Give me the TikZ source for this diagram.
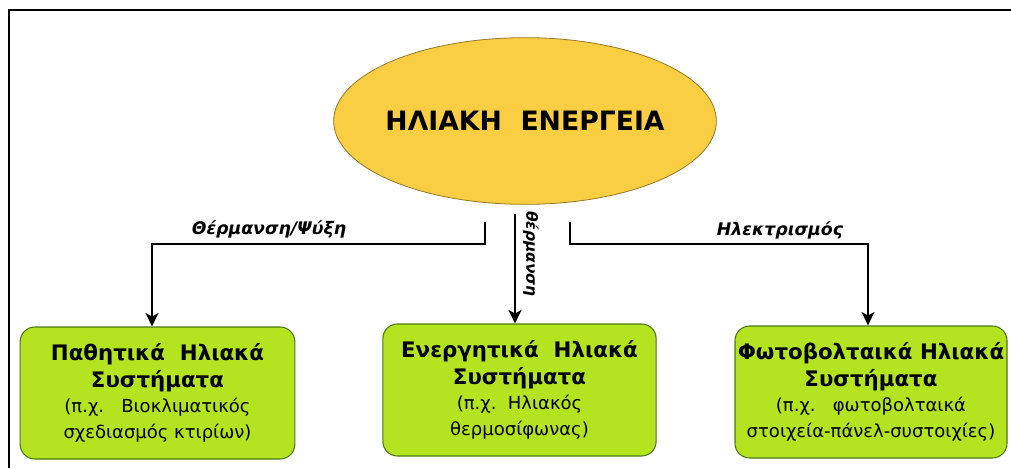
\documentclass[tikz,border=0pt]{standalone}
\usepackage{fontspec}
\setmainfont{DejaVu Sans}
\usetikzlibrary{arrows.meta,shapes.geometric}
\definecolor{sunfill}{RGB}{250,206,66}
\definecolor{sunline}{RGB}{150,120,40}
\definecolor{boxfill}{RGB}{180,228,32}
\definecolor{boxline}{RGB}{78,118,22}
\newcommand{\headtxt}{\fontsize{16}{18}\selectfont\bfseries}
\begin{document}
\begin{tikzpicture}[x=0.75pt,y=0.75pt,yscale=-1,xscale=1,
  sysbox/.style={draw=boxline,line width=0.8pt,fill=boxfill,rounded corners=11pt,
    minimum height=99pt,inner sep=0pt,align=center,font=\fontsize{13.5}{17}\selectfont},
  flow/.style={line width=2.2pt,-{Stealth[length=10pt,width=9.5pt,inset=2.5pt]}},
  flowlbl/.style={font=\fontsize{13}{15}\selectfont\bfseries\itshape,inner sep=0.75pt}]
\useasboundingbox (0,0) rectangle (1011,468);
\draw[line width=1.5pt] (1011,10) -- (9,10) -- (9,468);
% main ellipse
\node (sun) [ellipse,draw=sunline,line width=0.6pt,fill=sunfill,minimum width=287pt,minimum height=125pt,inner sep=0pt,
  font=\fontsize{20}{24}\selectfont\bfseries] at (525,121) {\makebox[0pt]{ΗΛΙΑΚΗ\ \ ΕΝΕΡΓΕΙΑ}};
% system boxes
\node (pas) [sysbox,minimum width=206pt] at (157.5,393) {\headtxt Παθητικά\ \ Ηλιακά\\[3pt] \headtxt Συστήματα\\[2pt] (π.χ.\ \ \ Βιοκλιματικός\\[2pt] σχεδιασμός κτιρίων)};
\node (act) [sysbox,minimum width=205pt] at (519.5,390) {\headtxt Ενεργητικά\ \ Ηλιακά\\[3pt] \headtxt Συστήματα\\[2pt] (π.χ.\ \ Ηλιακός\\[2pt] θερμοσίφωνας)};
\node (pv) [sysbox,minimum width=204pt] at (871,392) {\headtxt Φωτοβολταικά Ηλιακά\\[3pt] \headtxt Συστήματα\\[2pt] (π.χ.\ \ \ φωτοβολταικά\\[2pt] στοιχεία-πάνελ-συστοιχίες)};
% connectors
\coordinate (cL) at (485,222);
\coordinate (kL) at (152,244);
\coordinate (cM) at (515,214);
\coordinate (cR) at (570,222);
\coordinate (kR) at (868,244);
\draw[flow] (cL) |- (kL) -- (kL |- pas.north);
\draw[flow] (cM) -- (cM |- act.north);
\draw[flow] (cR) |- (kR) -- (kR |- pv.north);
\node (lblL) [flowlbl] at (269,229) {Θέρμανση/Ψύξη};
\node (lblM) [flowlbl,rotate=-90,font=\fontsize{11.5}{13}\selectfont\bfseries\itshape] at (531,254) {θέρμανση};
\node (lblR) [flowlbl] at (780,230) {Ηλεκτρισμός};
\end{tikzpicture}
\end{document}
